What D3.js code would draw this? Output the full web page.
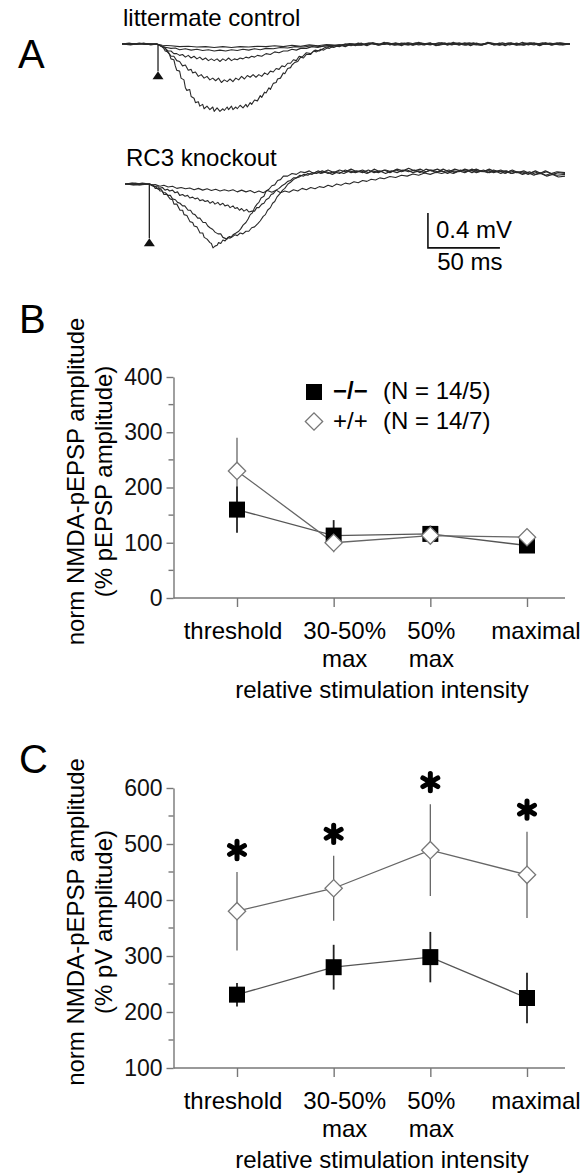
<!DOCTYPE html>
<html><head><meta charset="utf-8">
<script src="https://cdn.jsdelivr.net/npm/d3@7"></script>
<style>
html,body{margin:0;padding:0;background:#fff;}
svg{display:block;font-family:"Liberation Sans",Arial,Helvetica,sans-serif;}
</style></head><body>
<svg id="fig" width="588" height="1173"></svg>
<script>
// ---------- Panel A: traces, [time ms, mV] ----------
const ctrlStim = 25;      // ms
const koStim = 16.9;      // ms
const ctrlTrace1 = [[0,0],[5,0.01],[10,-0.005],[15,0.01],[20,-0.01],[24,0],[26,-0.01],[28,-0.03],[30,-0.04],[31,-0.08],[33,-0.12],[34,-0.17],[36,-0.18],[37,-0.25],[38,-0.3],[40,-0.31],[41,-0.39],[43,-0.41],[44,-0.5],[45,-0.53],[47,-0.52],[48,-0.6],[50,-0.62],[51,-0.67],[53,-0.66],[54,-0.71],[56,-0.69],[57,-0.74],[59,-0.71],[61,-0.75],[63,-0.72],[64,-0.77],[66,-0.73],[68,-0.77],[70,-0.74],[71,-0.76],[73,-0.72],[74,-0.75],[76,-0.71],[77,-0.75],[79,-0.72],[80,-0.74],[82,-0.7],[84,-0.73],[86,-0.69],[87,-0.72],[89,-0.67],[90,-0.69],[92,-0.64],[94,-0.65],[96,-0.59],[97,-0.61],[99,-0.55],[100,-0.56],[102,-0.5],[103,-0.52],[105,-0.45],[107,-0.44],[108,-0.4],[110,-0.39],[112,-0.33],[113,-0.34],[115,-0.28],[117,-0.27],[118,-0.24],[120,-0.21],[122,-0.2],[124,-0.15],[126,-0.16],[128,-0.12],[131,-0.12],[133,-0.08],[135,-0.09],[138,-0.06],[140,-0.07],[144,-0.03],[147,-0.04],[151,-0.01],[155,-0.03],[159,0],[162,-0.02],[166,0.01],[170,-0.02],[174,0.01],[178,-0.01],[182,0.02],[186,-0.01],[190,0.01],[194,-0.02],[198,0.01],[202,-0.01],[206,0.02],[210,-0.01],[214,0.01],[218,-0.02],[222,0.01],[226,-0.01],[230,0.02],[234,-0.01],[238,0.01],[242,-0.02],[246,0.01],[250,-0.01],[254,0.02],[258,-0.01],[262,0.01],[266,-0.02],[270,0.01],[274,-0.01],[278,0.02],[282,-0.01],[286,0.01],[290,-0.02],[294,0.01],[298,-0.01],[302,0.01],[306,-0.01],[311,0]];
const ctrlTrace2 = [[0,0],[6,-0.01],[12,0.01],[18,-0.005],[24,0],[27,-0.02],[29,-0.05],[30,-0.08],[32,-0.09],[34,-0.14],[36,-0.14],[38,-0.19],[40,-0.2],[42,-0.25],[44,-0.24],[46,-0.3],[48,-0.29],[49,-0.33],[51,-0.32],[53,-0.37],[55,-0.35],[57,-0.39],[59,-0.37],[61,-0.41],[63,-0.39],[65,-0.42],[67,-0.39],[69,-0.44],[71,-0.41],[73,-0.43],[75,-0.4],[77,-0.43],[79,-0.39],[81,-0.41],[83,-0.37],[85,-0.4],[87,-0.36],[89,-0.38],[91,-0.35],[93,-0.38],[95,-0.35],[97,-0.37],[99,-0.33],[101,-0.35],[103,-0.31],[105,-0.32],[107,-0.28],[109,-0.29],[111,-0.25],[113,-0.26],[115,-0.22],[117,-0.22],[119,-0.18],[121,-0.19],[123,-0.14],[125,-0.15],[128,-0.1],[131,-0.11],[134,-0.07],[137,-0.08],[141,-0.04],[144,-0.05],[147,-0.02],[151,-0.03],[155,0],[159,-0.02],[164,0.01],[169,-0.01],[174,0.015],[179,-0.01],[184,0.01],[189,-0.015],[194,0.01],[199,-0.01],[204,0.015],[209,-0.01],[214,0.01],[219,-0.015],[224,0.01],[229,-0.01],[234,0.015],[239,-0.01],[244,0.01],[249,-0.015],[254,0.01],[259,-0.01],[264,0.015],[269,-0.01],[274,0.01],[279,-0.015],[284,0.01],[289,-0.01],[294,0.015],[299,-0.01],[304,0.01],[311,0]];
const ctrlTrace3 = [[0,0],[8,0.005],[16,-0.005],[24,0],[28,-0.03],[30,-0.05],[32,-0.08],[34,-0.08],[36,-0.11],[38,-0.11],[40,-0.13],[42,-0.12],[44,-0.15],[46,-0.13],[48,-0.16],[50,-0.14],[52,-0.17],[54,-0.15],[56,-0.18],[58,-0.16],[60,-0.19],[62,-0.17],[64,-0.19],[66,-0.17],[68,-0.2],[70,-0.17],[72,-0.19],[74,-0.16],[76,-0.19],[78,-0.17],[80,-0.18],[82,-0.16],[84,-0.17],[86,-0.15],[88,-0.16],[90,-0.14],[92,-0.15],[94,-0.13],[97,-0.14],[100,-0.11],[103,-0.12],[106,-0.09],[109,-0.1],[112,-0.08],[115,-0.08],[118,-0.06],[121,-0.07],[124,-0.05],[128,-0.05],[132,-0.03],[136,-0.04],[140,-0.02],[145,-0.03],[150,-0.01],[155,-0.02],[160,0],[166,-0.015],[172,0.01],[178,-0.01],[184,0.015],[190,-0.01],[196,0.01],[202,-0.015],[208,0.01],[214,-0.01],[220,0.015],[226,-0.01],[232,0.01],[238,-0.015],[244,0.01],[250,-0.01],[256,0.015],[262,-0.01],[268,0.01],[274,-0.015],[280,0.01],[286,-0.01],[292,0.015],[298,-0.01],[304,0.01],[311,0]];
const ctrlTrace4 = [[0,0],[8,-0.005],[16,0.005],[24,0],[28,-0.03],[31,-0.04],[34,-0.05],[37,-0.045],[40,-0.065],[44,-0.055],[48,-0.07],[52,-0.06],[56,-0.075],[60,-0.065],[64,-0.08],[68,-0.07],[72,-0.08],[76,-0.065],[80,-0.075],[84,-0.06],[88,-0.07],[92,-0.055],[96,-0.065],[100,-0.05],[105,-0.055],[110,-0.04],[115,-0.045],[120,-0.03],[126,-0.035],[132,-0.02],[138,-0.03],[144,-0.015],[150,-0.02],[157,-0.005],[164,-0.015],[171,0.01],[178,-0.01],[185,0.01],[192,-0.01],[199,0.015],[206,-0.01],[213,0.01],[220,-0.015],[227,0.01],[234,-0.01],[241,0.015],[248,-0.01],[255,0.01],[262,-0.015],[269,0.01],[276,-0.01],[283,0.015],[290,-0.01],[297,0.01],[304,-0.01],[311,0]];
const ctrlTrace5 = [[0,0],[10,0.005],[24,0],[28,-0.015],[34,-0.02],[40,-0.03],[46,-0.025],[52,-0.035],[58,-0.03],[64,-0.04],[70,-0.03],[76,-0.04],[82,-0.03],[88,-0.035],[94,-0.025],[100,-0.03],[106,-0.02],[112,-0.03],[118,-0.015],[124,-0.025],[130,-0.01],[136,-0.02],[142,-0.005],[150,-0.015],[158,0.005],[166,-0.01],[174,0.01],[182,-0.005],[190,0.01],[198,-0.01],[206,0.01],[214,-0.005],[222,0.015],[230,-0.005],[238,0.01],[246,-0.01],[254,0.01],[262,-0.005],[270,0.01],[278,-0.01],[286,0.01],[294,-0.005],[302,0.01],[311,0]];

const koTrace1 = [[0,0],[5,0.01],[10,-0.01],[16.9,0],[18.8,-0.02],[20,-0.02],[21,-0.05],[23,-0.05],[24.3,-0.08],[26,-0.08],[27,-0.12],[29,-0.12],[31.3,-0.17],[33,-0.18],[34,-0.23],[36,-0.23],[38.2,-0.3],[40,-0.3],[41,-0.35],[43,-0.36],[45.1,-0.43],[47,-0.44],[48,-0.48],[50,-0.49],[52.1,-0.56],[54,-0.56],[55,-0.61],[57,-0.63],[59,-0.67],[60,-0.68],[61.1,-0.73],[62.5,-0.71],[64,-0.7],[65,-0.67],[66.5,-0.68],[68,-0.64],[69.5,-0.65],[71.5,-0.61],[73,-0.62],[75,-0.58],[77.1,-0.56],[79,-0.54],[80.5,-0.51],[82,-0.47],[84,-0.44],[85.5,-0.4],[87,-0.35],[88.5,-0.33],[90,-0.27],[91.7,-0.23],[93,-0.21],[94.5,-0.16],[96.5,-0.14],[98,-0.08],[100,-0.06],[102,-0.02],[104,-0.01],[106,0.04],[108,0.05],[110,0.09],[113,0.09],[116,0.12],[119,0.11],[122,0.14],[125,0.13],[128,0.15],[131,0.12],[134,0.15],[137,0.13],[141,0.16],[145,0.13],[149,0.16],[153,0.14],[157,0.17],[161,0.14],[165,0.16],[169,0.13],[173,0.17],[177,0.14],[181,0.16],[185,0.14],[189,0.17],[193,0.15],[197,0.18],[201,0.15],[205,0.17],[209,0.14],[213,0.16],[217,0.14],[221,0.17],[225,0.14],[229,0.17],[233,0.15],[237,0.16],[241,0.13],[245,0.16],[249,0.14],[253,0.17],[257,0.14],[261,0.16],[265,0.13],[269,0.16],[273,0.13],[277,0.15],[281,0.12],[285,0.15],[289,0.12],[293,0.14],[297,0.11],[301,0.13],[305.6,0.12]];
const koTrace2 = [[0,0],[6,-0.01],[12,0.01],[16.9,0],[18,-0.01],[20,-0.03],[21.5,-0.03],[22.9,-0.06],[25,-0.06],[26.5,-0.1],[28,-0.1],[30,-0.13],[31.5,-0.13],[33,-0.17],[35,-0.18],[36.5,-0.21],[38.2,-0.22],[40,-0.25],[41.5,-0.25],[43.8,-0.3],[45.5,-0.3],[47,-0.34],[48.6,-0.35],[50.5,-0.39],[52,-0.39],[54.2,-0.44],[56,-0.44],[57.5,-0.48],[59,-0.5],[61,-0.52],[62.5,-0.55],[64.6,-0.57],[66.5,-0.57],[68,-0.61],[70.8,-0.63],[72.5,-0.6],[74,-0.61],[76.4,-0.58],[78,-0.59],[80,-0.56],[81.9,-0.57],[84,-0.54],[86,-0.54],[88,-0.5],[90,-0.49],[92.4,-0.45],[94,-0.42],[96,-0.37],[97.5,-0.35],[99,-0.3],[101,-0.27],[102.5,-0.22],[104,-0.2],[105.5,-0.15],[107.6,-0.11],[109.5,-0.07],[111,-0.05],[113.2,0],[115,0.02],[117,0.05],[119,0.07],[121,0.08],[124,0.11],[127,0.1],[130,0.13],[133,0.12],[137,0.15],[141,0.12],[145,0.14],[149,0.12],[153,0.16],[157,0.13],[161,0.15],[165,0.13],[169,0.16],[173,0.13],[177,0.15],[181,0.12],[185,0.15],[189,0.13],[193,0.16],[197,0.14],[201,0.16],[205,0.13],[209,0.17],[213,0.15],[217,0.17],[221,0.14],[225,0.16],[229,0.13],[233,0.16],[237,0.14],[241,0.17],[245,0.14],[249,0.16],[253,0.13],[257,0.15],[261,0.12],[265,0.15],[269,0.12],[273,0.14],[277,0.12],[281,0.14],[285,0.11],[289,0.12],[293,0.09],[297,0.11],[301,0.08],[305.6,0.09]];
const koTrace3 = [[0,0],[7,0.01],[13,-0.005],[16.9,0],[19,-0.01],[20.8,-0.03],[22.5,-0.02],[24,-0.05],[26,-0.04],[27.8,-0.07],[29.5,-0.06],[31,-0.08],[33,-0.07],[34.7,-0.1],[36.5,-0.09],[38,-0.13],[40,-0.12],[41.7,-0.14],[43.5,-0.13],[45,-0.16],[47,-0.15],[48.6,-0.17],[50.5,-0.16],[52,-0.19],[54,-0.18],[55.6,-0.2],[57.5,-0.19],[59,-0.22],[61,-0.2],[62.5,-0.23],[64.5,-0.21],[66,-0.24],[68,-0.22],[69.4,-0.25],[71.5,-0.24],[73,-0.27],[75,-0.25],[76.4,-0.28],[78,-0.27],[79.5,-0.3],[81,-0.28],[82.6,-0.31],[84.5,-0.29],[86,-0.32],[88.2,-0.31],[90,-0.31],[91.5,-0.27],[93,-0.27],[95,-0.23],[96.5,-0.22],[98,-0.18],[100,-0.16],[101.5,-0.12],[103,-0.11],[105,-0.07],[107,-0.05],[109,-0.02],[111,0],[113,0.03],[115,0.04],[117,0.07],[119,0.07],[121.5,0.1],[124,0.09],[127,0.12],[130,0.11],[133,0.14],[136,0.12],[140,0.14],[144,0.11],[148,0.14],[152,0.12],[156,0.15],[160,0.13],[164,0.15],[168,0.12],[172,0.15],[176,0.13],[180,0.16],[184,0.13],[188,0.16],[192,0.14],[196,0.16],[200,0.13],[204,0.15],[208,0.13],[212,0.16],[216,0.13],[220,0.15],[224,0.12],[228,0.15],[232,0.14],[236,0.17],[240,0.15],[244,0.17],[248,0.14],[252,0.16],[256,0.13],[260,0.15],[264,0.12],[268,0.15],[272,0.13],[276,0.14],[280,0.11],[284,0.14],[288,0.12],[292,0.15],[296,0.12],[300,0.14],[305.6,0.13]];
const koTrace4 = [[0,0],[8,-0.01],[16.9,0],[19,-0.01],[21,-0.005],[24.3,-0.025],[27,-0.015],[30,-0.035],[33,-0.025],[36,-0.05],[39,-0.04],[42,-0.055],[45,-0.045],[48,-0.065],[51,-0.05],[54,-0.07],[57,-0.055],[60,-0.075],[63,-0.06],[66,-0.08],[69,-0.065],[72,-0.08],[75,-0.065],[78,-0.09],[81,-0.07],[84,-0.09],[87,-0.075],[90,-0.1],[93,-0.08],[96,-0.1],[99,-0.075],[102,-0.095],[105,-0.07],[108,-0.1],[111,-0.08],[114,-0.095],[117,-0.065],[120,-0.08],[123,-0.05],[126,-0.065],[129,-0.04],[132,-0.055],[135,-0.03],[138,-0.04],[141,-0.015],[144,-0.03],[147,0],[150,-0.015],[153,0.01],[156,0],[159,0.025],[162,0.015],[165,0.04],[168,0.03],[171,0.055],[174,0.045],[177,0.07],[180,0.06],[184,0.085],[188,0.075],[192,0.1],[196,0.09],[200,0.115],[204,0.1],[208,0.125],[212,0.11],[216,0.135],[220,0.12],[224,0.14],[228,0.12],[232,0.15],[236,0.13],[240,0.16],[244,0.13],[248,0.15],[252,0.13],[256,0.16],[260,0.14],[264,0.15],[268,0.12],[272,0.14],[276,0.11],[280,0.13],[284,0.1],[288,0.13],[292,0.1],[296,0.12],[300,0.1],[305.6,0.11]];
const ctrlTraces = [ctrlTrace1, ctrlTrace2, ctrlTrace3, ctrlTrace4, ctrlTrace5];
const koTraces = [koTrace1, koTrace2, koTrace3, koTrace4];
const ctrlArtifact = -0.31;  // mV, depth of stimulus artifact
const koArtifact = -0.62;
const scaleBarMV = 0.4;
const scaleBarMS = 50;

// ---------- Panels B and C ----------
const categories = [["threshold"], ["30-50%", "max"], ["50%", "max"], ["maximal"]];
const seriesNames = ["\u2212/\u2212", "+/+"];
const seriesN = ["(N = 14/5)", "(N = 14/7)"];
const bKO = [160, 113, 116, 95];
const bKOsem = [42, 28, 15, 6];
const bWT = [230, 100, 113, 110];
const bWTsem = [60, 17, 12, 6];
const bTicks = [0, 100, 200, 300, 400];
const bMinor = [50, 150, 250, 350];
const cKO = [231, 280, 298, 225];
const cKOsem = [21, 40, 45, 45];
const cWT = [380, 421, 489, 445];
const cWTsem = [70, 58, 82, 77];
const cSig = [true, true, true, true];
const cTicks = [100, 200, 300, 400, 500, 600];
const cMinor = [150, 250, 350, 450, 550];

const svg = d3.select("#fig");
const FS = 24;

// Panel letters
svg.append("text").attr("x", 18).attr("y", 68).attr("font-size", 40).text("A");
svg.append("text").attr("x", 19).attr("y", 333).attr("font-size", 40).text("B");
svg.append("text").attr("x", 19).attr("y", 773).attr("font-size", 40).text("C");

// ---- Panel A ----
function tracePanel(traces, x, y, stim, art, title, titleY) {
  const g = svg.append("g");
  g.append("text").attr("x", x.range()[0] + 1).attr("y", titleY).attr("font-size", FS).text(title);
  const line = d3.line().x(d => x(d[0])).y(d => y(d[1]));
  g.selectAll("path.tr").data(traces).join("path").attr("class", "tr")
    .attr("d", line).attr("fill", "none").attr("stroke", "#2a2a2a").attr("stroke-width", 1.1)
    .attr("stroke-linejoin", "round");
  // stimulus artifact
  g.append("line").attr("x1", x(stim)).attr("x2", x(stim)).attr("y1", y(0)).attr("y2", y(art))
    .attr("stroke", "#222").attr("stroke-width", 1.3);
  const ax = x(stim), ay = y(art);
  g.append("path").attr("d", `M${ax},${ay} L${ax - 5.5},${ay + 8} L${ax + 5.5},${ay + 8} Z`).attr("fill", "#111");
  return g;
}
const xA1 = d3.scaleLinear().domain([0, 311]).range([122, 570]);
const yA1 = d3.scaleLinear().domain([0, -1]).range([44, 131.5]);
tracePanel(ctrlTraces, xA1, yA1, ctrlStim, ctrlArtifact, "littermate control", 26);
const xA2 = d3.scaleLinear().domain([0, 305.6]).range([125, 565]);
const yA2 = d3.scaleLinear().domain([0, -1]).range([184, 271.5]);
tracePanel(koTraces, xA2, yA2, koStim, koArtifact, "RC3 knockout", 166);

// scale bar (anchored in knockout trace coordinates)
{
  const t0 = 210.4, v0 = -0.73;
  const sx = xA2(t0), sy = yA2(v0);
  const topY = yA2(v0 + scaleBarMV), rightX = xA2(t0 + scaleBarMS);
  svg.append("path").attr("d", `M${sx},${topY} L${sx},${sy} L${rightX},${sy}`)
    .attr("fill", "none").attr("stroke", "#111").attr("stroke-width", 1.6);
  svg.append("text").attr("x", sx + 8).attr("y", sy - 10).attr("font-size", FS).text(scaleBarMV + " mV");
  svg.append("text").attr("x", (sx + rightX) / 2 + 6).attr("y", sy + 22).attr("text-anchor", "middle")
    .attr("font-size", FS).text(scaleBarMS + " ms");
}

// ---- Panels B, C ----
const xPos = d3.scalePoint().domain(d3.range(categories.length)).range([237, 527]);
const labelShift = [-4, 11, 1, 9];
function plotPanel(o) {
  const g = svg.append("g");
  const y = d3.scaleLinear().domain([o.ticks[0], o.ticks[o.ticks.length - 1]]).range([o.bottom, o.top]);
  const axL = 173.5, axR = 565;
  // y axis
  const ya = g.append("g").attr("transform", `translate(${axL},0)`)
    .call(d3.axisLeft(y).tickValues(o.ticks).tickSize(7).tickSizeOuter(0).tickPadding(4).tickFormat(d3.format("d")));
  ya.select(".domain").attr("stroke", "#777").attr("stroke-width", 1.4);
  ya.selectAll(".tick line").attr("stroke", "#777").attr("stroke-width", 1.4);
  ya.selectAll(".tick text").attr("font-size", 23).attr("fill", "#111").attr("font-family", "Liberation Sans, Arial, sans-serif");
  g.selectAll("line.minor").data(o.minor).join("line").attr("class", "minor")
    .attr("x1", axL - 5).attr("x2", axL).attr("y1", d => y(d)).attr("y2", d => y(d))
    .attr("stroke", "#777").attr("stroke-width", 1.4);
  // x axis
  g.append("line").attr("x1", axL).attr("x2", axR).attr("y1", o.bottom).attr("y2", o.bottom)
    .attr("stroke", "#777").attr("stroke-width", 1.4);
  const xa = g.append("g").attr("transform", `translate(0,${o.bottom})`)
    .call(d3.axisBottom(xPos).tickSize(9).tickSizeOuter(0).tickFormat(""));
  xa.select(".domain").remove();
  xa.selectAll(".tick line").attr("stroke", "#777").attr("stroke-width", 1.4);
  categories.forEach((c, i) => {
    const cx = xPos(i) + labelShift[i];
    const t = g.append("text").attr("x", cx).attr("y", o.bottom + 41).attr("text-anchor", "middle").attr("font-size", FS);
    c.forEach((s, j) => t.append("tspan").attr("x", cx).attr("dy", j ? 28 : 0).text(s));
  });
  g.append("text").attr("x", (xPos(0) + xPos(3)) / 2).attr("y", o.bottom + 100).attr("text-anchor", "middle")
    .attr("font-size", FS).text("relative stimulation intensity");
  // y label
  const cy = (o.top + o.bottom) / 2 - 6;
  const yl = g.append("text").attr("transform", `translate(84,${cy}) rotate(-90)`).attr("text-anchor", "middle").attr("font-size", FS);
  yl.append("tspan").attr("x", 0).attr("dy", 0).text(o.ylabel[0]);
  yl.append("tspan").attr("x", 0).attr("dy", 28).text(o.ylabel[1]);

  // error bars
  const idx = d3.range(categories.length);
  g.selectAll("line.ewt").data(idx).join("line").attr("class", "ewt")
    .attr("x1", i => xPos(i)).attr("x2", i => xPos(i))
    .attr("y1", i => y(o.wt[i] + o.wtSem[i])).attr("y2", i => y(o.wt[i] - o.wtSem[i]))
    .attr("stroke", "#666").attr("stroke-width", 1.3);
  g.selectAll("line.eko").data(idx).join("line").attr("class", "eko")
    .attr("x1", i => xPos(i)).attr("x2", i => xPos(i))
    .attr("y1", i => y(o.ko[i] + o.koSem[i])).attr("y2", i => y(o.ko[i] - o.koSem[i]))
    .attr("stroke", "#222").attr("stroke-width", 1.8);
  const ln = arr => d3.line().x((d, i) => xPos(i)).y(d => y(d))(arr);
  g.append("path").attr("d", ln(o.ko)).attr("fill", "none").attr("stroke", "#555").attr("stroke-width", 1.3);
  g.append("path").attr("d", ln(o.wt)).attr("fill", "none").attr("stroke", "#666").attr("stroke-width", 1.3);
  const sq = d3.symbol(d3.symbolSquare, 256);
  g.selectAll("path.sq").data(o.ko).join("path").attr("class", "sq")
    .attr("d", sq).attr("transform", (d, i) => `translate(${xPos(i)},${y(d)})`).attr("fill", "#000");
  const dm = d3.symbol(d3.symbolSquare, 150);
  g.selectAll("path.dm").data(o.wt).join("path").attr("class", "dm")
    .attr("d", dm).attr("transform", (d, i) => `translate(${xPos(i)},${y(d)}) rotate(45)`)
    .attr("fill", "#fff").attr("stroke", "#777").attr("stroke-width", 1.3);
  if (o.sig) {
    const ast = d3.symbol(d3.symbolAsterisk, 210);
    g.selectAll("path.ast").data(idx.filter(i => o.sig[i])).join("path").attr("class", "ast")
      .attr("d", ast).attr("transform", i => `translate(${xPos(i)},${y(o.wt[i] + o.wtSem[i]) - 22})`)
      .attr("fill", "none").attr("stroke", "#000").attr("stroke-width", 5).attr("stroke-linecap", "round");
  }
  return g;
}
plotPanel({ ticks: bTicks, minor: bMinor, top: 377, bottom: 598, ko: bKO, koSem: bKOsem, wt: bWT, wtSem: bWTsem,
  ylabel: ["norm NMDA-pEPSP amplitude", "(% pEPSP amplitude)"] });
plotPanel({ ticks: cTicks, minor: cMinor, top: 788, bottom: 1068, ko: cKO, koSem: cKOsem, wt: cWT, wtSem: cWTsem, sig: cSig,
  ylabel: ["norm NMDA-pEPSP amplitude", "(% pV amplitude)"] });

// legend (panel B)
{
  const lg = svg.append("g").attr("transform", "translate(314,392)");
  seriesNames.forEach((s, i) => {
    const row = lg.append("g").attr("transform", `translate(0,${i * 29.5})`);
    if (i === 0) row.append("path").attr("d", d3.symbol(d3.symbolSquare, 256)).attr("fill", "#000");
    else row.append("path").attr("d", d3.symbol(d3.symbolSquare, 150)).attr("transform", "rotate(45)")
      .attr("fill", "#fff").attr("stroke", "#777").attr("stroke-width", 1.3);
    row.append("text").attr("x", 19).attr("y", 7).attr("font-size", FS).attr("font-weight", i === 0 ? "bold" : "normal").text(s);
    row.append("text").attr("x", 69).attr("y", 7).attr("font-size", FS).text(seriesN[i]);
  });
}
</script>
</body></html>
